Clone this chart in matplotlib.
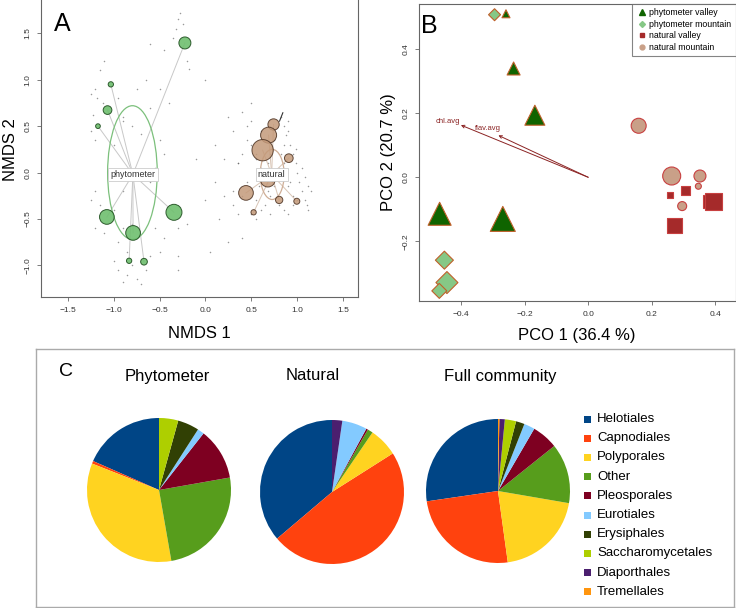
import matplotlib
matplotlib.use('Agg')
from matplotlib import pyplot as plt
from matplotlib.patches import Ellipse, Rectangle
from matplotlib.lines import Line2D

plt.rcParams['font.family'] = ['Liberation Sans', 'DejaVu Sans']

# ---- panel A: NMDS ----
phyto_x = [-0.224, -1.03, -1.066, -1.17, -1.073, -0.788, -0.343, -0.831, -0.669]
phyto_y = [1.396, 0.95, 0.673, 0.50, -0.478, -0.65, -0.428, -0.95, -0.96]
phyto_d = [12, 5.3, 8.7, 4.7, 14.7, 14.7, 16, 5.3, 6.7]   # marker diameter, px
nat_x = [0.741, 0.687, 0.622, 0.907, 0.679, 0.441, 0.802, 0.994, 0.524]
nat_y = [0.518, 0.403, 0.241, 0.155, -0.076, -0.219, -0.295, -0.309, -0.428]
nat_d = [11.3, 16, 21.3, 8.7, 14.7, 14.7, 7.3, 6, 5.3]
phyto_centre = (-0.79, -0.02)
nat_centre = (0.72, -0.02)
phyto_ell = (-0.795, 0.0, 0.54, 1.44)
nat_ell = (0.726, -0.02, 0.26, 0.54)
vec_x = [0.806, 0.842]
vec_y = [0.554, 0.644]

species_x = [-0.28, -0.3, -0.32, -0.25, -0.35, -0.6, -0.45, -0.2, -0.18, 0.0,
             -1.1, -1.15, -1.2, -1.25, -1.18, -1.12, -0.95, -0.9, -1.22, -1.25,
             -1.2, -0.9, -0.8, -0.7, -1.0, -0.5, -0.45, -0.55, -0.6, -0.9,
             -1.2, -1.25, -1.15, -1.0, -0.9, -0.8, -0.55, -0.45, -0.3, -0.2,
             -1.2, -1.1, -0.95, -0.85, -0.8, -0.85, -0.75, -0.7, -0.9, -0.65,
             -0.6, -0.5, -0.3, -0.3, -1.0, -0.95, -0.6, -0.65, -0.75, -0.5,
             -0.4, 0.1, 0.2, 0.25, 0.3, 0.35, 0.1, 0.2, 0.3, 0.15,
             0.05, 0.25, 0.4, 0.45, 0.5, 0.55, 0.4, 0.0, -0.1,
             0.35, 0.4, 0.45, 0.5, 0.55, 0.6, 0.62, 0.58, 0.55, 0.6,
             0.65, 0.7, 0.75, 0.78, 0.8, 0.82, 0.85, 0.88, 0.9, 0.92,
             0.95, 0.98, 1.0, 1.02, 1.05, 1.08, 1.1, 1.12, 0.95, 0.9,
             0.88, 0.85, 0.75, 0.7, 0.68, 0.72, 0.68, 0.8, 0.85, 0.9,
             0.95, 1.0, 0.92, 1.05, 1.08, 0.98, 0.9, 0.85, 0.82, 0.6,
             0.5, 0.45, 0.4, 0.5, 0.55, 0.7, 0.3, 0.35, 1.15, 1.12]
species_y = [1.72, 1.65, 1.55, 1.6, 1.45, 1.38, 1.32, 1.2, 1.12, 1.0,
             1.2, 1.1, 0.9, 0.85, 0.8, 0.75, 0.8, 0.6, 0.62, 0.45,
             0.35, 0.55, 0.5, 0.42, 0.3, 0.35, 0.2, 0.05, -0.1, -0.2,
             -0.2, -0.3, -0.35, -0.4, -0.6, -0.55, -0.6, -0.7, -0.6, -0.55,
             -0.6, -0.65, -0.75, -0.85, -1.0, -1.1, -1.15, -1.2, -1.18, -1.05,
             -0.9, -0.85, -0.9, -1.05, -0.95, -1.05, 0.7, 1.0, 0.9, 0.9,
             0.75, 0.3, 0.15, 0.6, 0.45, 0.1, -0.1, -0.25, -0.35, -0.5,
             -0.85, -0.75, -0.7, 0.5, 0.75, 0.2, 0.65, -0.3, 0.15,
             0.1, 0.2, 0.35, 0.3, 0.15, 0.05, -0.05, -0.15, -0.3, -0.4,
             -0.35, -0.25, -0.15, -0.05, 0.05, 0.2, 0.3, 0.4, 0.45, 0.3,
             0.2, 0.1, 0.0, -0.1, -0.2, -0.3, -0.35, -0.4, -0.25, -0.15,
             -0.05, 0.1, 0.35, 0.2, 0.1, -0.1, -0.2, -0.35, -0.4, -0.45,
             -0.35, -0.3, -0.1, 0.05, -0.05, 0.25, 0.55, 0.5, 0.6, 0.45,
             0.55, -0.1, -0.25, -0.45, -0.5, -0.45, -0.2, -0.45, -0.2, -0.15]

# ---- panel B: PCO ----
pv_x = [-0.259, -0.235, -0.168, -0.468, -0.269]
pv_y = [0.511, 0.340, 0.194, -0.114, -0.130]
pv_d = [8, 13, 20, 23, 25]
pm_x = [-0.295, -0.453, -0.445, -0.469]
pm_y = [0.508, -0.259, -0.329, -0.355]
pm_d = [12, 18, 22, 15]
nv_x = [0.258, 0.308, 0.273, 0.381, 0.394]
nv_y = [-0.054, -0.041, -0.151, -0.075, -0.075]
nv_d = [6, 9, 15, 13, 17]
nm_x = [0.159, 0.263, 0.352, 0.347, 0.296]
nm_y = [0.161, 0.004, 0.004, -0.028, -0.090]
nm_d = [15, 18, 12, 6, 9]
arrow_names = ['chl.avg', 'flav.avg']
arrow_x = [-0.401, -0.283]
arrow_y = [0.163, 0.131]

# ---- panel C: pies ----
orders = ['Helotiales', 'Capnodiales', 'Polyporales', 'Other', 'Pleosporales',
          'Eurotiales', 'Erysiphales', 'Saccharomycetales', 'Diaporthales', 'Tremellales']
pie_phyto = [18.4, 0.6, 33.7, 25.0, 11.6, 1.5, 4.8, 4.3, 0.0, 0.0]
pie_natural = [36.2, 47.8, 6.5, 1.2, 0.4, 5.6, 0.0, 0.0, 2.3, 0.0]
pie_full = [27.0, 24.6, 19.9, 13.3, 5.8, 2.4, 1.9, 2.5, 1.2, 0.3]
pie_titles = ['Phytometer', 'Natural', 'Full community']
order_colors = ['#004586', '#ff420e', '#ffd320', '#579d1c', '#7e0021',
                '#83caff', '#314004', '#aecf00', '#4b1f6f', '#ff950e']

W, H = 736, 608


def box(x0, y0, x1, y1):
    # pixel box (top-left origin) -> figure fraction rect
    return [x0 / W, 1 - y1 / H, (x1 - x0) / W, (y1 - y0) / H]


def pt2(d):
    return (d * 0.72) ** 2


def r_style(ax):
    for s in ax.spines.values():
        s.set_color('#666666')
        s.set_linewidth(0.8)
    ax.tick_params(colors='#666666', labelcolor='#333333', labelsize=6, length=3, width=0.6, pad=4)
    for lab in ax.get_yticklabels():
        lab.set_rotation(90)
        lab.set_va('center')


fig = plt.figure(figsize=(7.36, 6.08), dpi=100)

# ---------------- A ----------------
axA = fig.add_axes(box(41, -2, 358, 297))
axA.scatter(species_x, species_y, s=1.2, c='#555555', alpha=0.6, linewidths=0, zorder=1)
for x, y in zip(phyto_x, phyto_y):
    axA.plot([phyto_centre[0], x], [phyto_centre[1], y], color='#c8c8c8', lw=0.7, zorder=2)
for x, y in zip(nat_x, nat_y):
    axA.plot([nat_centre[0], x], [nat_centre[1], y], color='#d8c4b4', lw=0.7, zorder=2)
axA.add_patch(Ellipse(phyto_ell[:2], phyto_ell[2], phyto_ell[3], fill=False,
                      ec='#7cc07c', lw=0.9, zorder=3))
axA.add_patch(Ellipse(nat_ell[:2], nat_ell[2], nat_ell[3], fill=False,
                      ec='#cfae96', lw=0.9, zorder=3))
axA.scatter(phyto_x, phyto_y, s=[pt2(d) for d in phyto_d], c='#6fbf6f',
            edgecolors='#1e4d1e', linewidths=0.7, alpha=0.9, zorder=4)
axA.scatter(nat_x, nat_y, s=[pt2(d) for d in nat_d], c='#c49a7a',
            edgecolors='#4a3020', linewidths=0.7, alpha=0.85, zorder=4)
axA.plot(vec_x, vec_y, color='#333333', lw=0.8, zorder=5)
lbl = dict(boxstyle='square,pad=0.25', fc='white', ec='#cccccc', lw=0.6)
axA.text(*phyto_centre, 'phytometer', fontsize=6.5, ha='center', va='center',
         color='#333333', bbox=lbl, zorder=6)
axA.text(*nat_centre, 'natural', fontsize=6.5, ha='center', va='center',
         color='#333333', bbox=lbl, zorder=6)
axA.set_xlim(-1.79, 1.66)
axA.set_ylim(-1.34, 1.88)
axA.set_xticks([-1.5, -1.0, -0.5, 0.0, 0.5, 1.0, 1.5])
axA.set_yticks([-1.0, -0.5, 0.0, 0.5, 1.0, 1.5])
r_style(axA)
axA.set_xlabel('NMDS 1', fontsize=12)
axA.set_ylabel('NMDS 2', fontsize=12)
axA.xaxis.set_label_coords(0.5, -(333 - 297) / 299, transform=axA.transAxes)
axA.yaxis.set_label_coords((11 - 41) / 317, (299 - 150 - 2) / 299)
axA.xaxis.label.set_va('center')
axA.yaxis.label.set_va('center')
axA.text(62 / W, 1 - 24 / H, 'A', transform=fig.transFigure, fontsize=18,
         ha='center', va='center')

# ---------------- B ----------------
axB = fig.add_axes(box(419, 4, 735.5, 301))
for (nx, tx, ty) in zip(arrow_names, arrow_x, arrow_y):
    axB.annotate('', xy=(tx, ty), xytext=(0, 0),
                 arrowprops=dict(arrowstyle='->', color='#8b2323', lw=0.7,
                                 shrinkA=0, shrinkB=0, mutation_scale=5))
axB.text(arrow_x[0] - 0.04, arrow_y[0] + 0.012, arrow_names[0], fontsize=5.5, color='#8b2323',
         ha='center', va='center')
axB.text(arrow_x[1] - 0.033, arrow_y[1] + 0.02, arrow_names[1], fontsize=5.5, color='#8b2323',
         ha='center', va='center')
axB.scatter(pm_x, pm_y, s=[pt2(d / 1.414) for d in pm_d], marker='D', c='#86c886',
            edgecolors='#c0602a', linewidths=0.8, zorder=3)
axB.scatter(pv_x, pv_y, s=[pt2(d) for d in pv_d], marker='^', c='#0f6400',
            edgecolors='#c0602a', linewidths=0.8, zorder=3)
axB.scatter(nm_x, nm_y, s=[pt2(d) for d in nm_d], marker='o', c='#c9a088',
            edgecolors='#c84040', linewidths=0.8, zorder=3)
axB.scatter(nv_x, nv_y, s=[pt2(d) for d in nv_d], marker='s', c='#a52a2a',
            edgecolors='#c84040', linewidths=0.8, zorder=3)
axB.set_xlim(-0.533, 0.464)
axB.set_ylim(-0.3866, 0.5415)
axB.set_xticks([-0.4, -0.2, 0.0, 0.2, 0.4])
axB.set_yticks([-0.2, 0.0, 0.2, 0.4])
r_style(axB)
axB.set_xlabel('PCO 1 (36.4 %)', fontsize=12)
axB.set_ylabel('PCO 2 (20.7 %)', fontsize=12)
axB.xaxis.set_label_coords(0.5, -(335 - 301) / 297)
axB.yaxis.set_label_coords((389 - 419) / 316.5, 0.5)
axB.xaxis.label.set_va('center')
axB.yaxis.label.set_va('center')
axB.text(429 / W, 1 - 26 / H, 'B', transform=fig.transFigure, fontsize=18,
         ha='center', va='center')
handles = [Line2D([], [], ls='', marker='^', ms=4, color='#0f6400'),
           Line2D([], [], ls='', marker='D', ms=3, color='#86c886'),
           Line2D([], [], ls='', marker='s', ms=3.5, color='#a52a2a'),
           Line2D([], [], ls='', marker='o', ms=3.5, color='#c9a088')]
leg = axB.legend(handles, ['phytometer valley', 'phytometer mountain', 'natural valley',
                           'natural mountain'], loc='upper right', fontsize=6.3,
                 borderaxespad=0, fancybox=False, edgecolor='#666666',
                 handletextpad=0.3, handlelength=1.2, labelspacing=0.3,
                 borderpad=0.45)
leg.get_frame().set_linewidth(0.8)

# ---------------- C ----------------
axC = fig.add_axes(box(36, 349, 734, 607))
axC.set_xticks([])
axC.set_yticks([])
for s in axC.spines.values():
    s.set_color('#aaaaaa')
    s.set_linewidth(1)
axC.text(66 / W, 1 - 372 / H, 'C', transform=fig.transFigure, fontsize=14,
         ha='center', va='center')

centres = [(159, 490), (332, 492), (498, 491)]
title_x = [167, 313, 500]
for vals, title, (cx, cy), tx in zip([pie_phyto, pie_natural, pie_full], pie_titles,
                                      centres, title_x):
    r = 72 * 1.04
    axp = fig.add_axes(box(cx - r, cy - r, cx + r, cy + r))
    axp.pie(vals, colors=order_colors, startangle=90, counterclock=True,
            wedgeprops=dict(linewidth=0))
    axp.set_xlim(-1.04, 1.04)
    axp.set_ylim(-1.04, 1.04)
    axp.set_aspect('equal')
    axp.axis('off')
    fig.text(tx / W, 1 - 376 / H, title, fontsize=12, ha='center', va='center')

for i, (name, col) in enumerate(zip(orders, order_colors)):
    yy = 419 + i * 19.2
    fig.patches.append(Rectangle(((584) / W, 1 - (yy + 3.5) / H), 7 / W, 7 / H,
                                 transform=fig.transFigure, fc=col, ec='none'))
    fig.text(597 / W, 1 - yy / H, name, fontsize=9.5, ha='left', va='center')

fig.savefig('out.png', dpi=100)
